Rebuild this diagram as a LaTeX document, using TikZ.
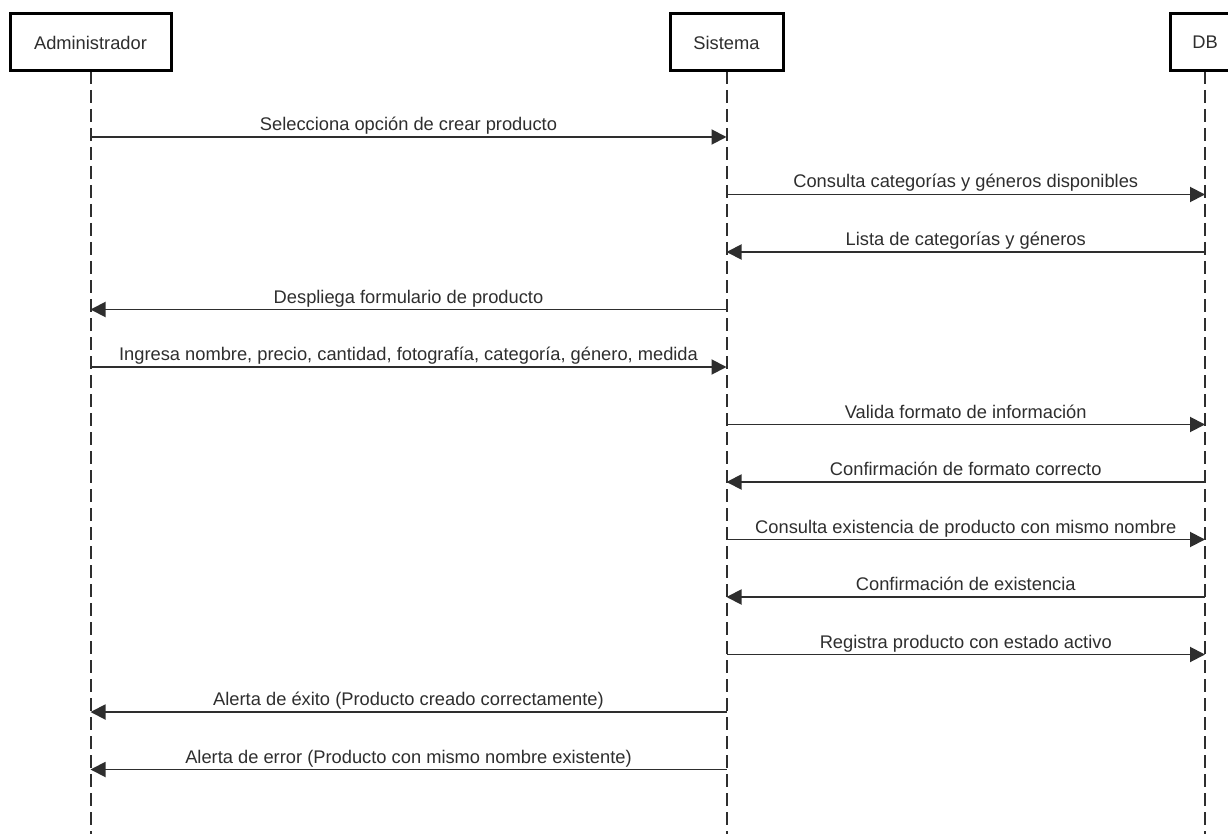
\documentclass[tikz,border=0pt]{standalone}
\usepackage{fontspec}
\setmainfont{Liberation Sans}
\usetikzlibrary{arrows.meta}
\definecolor{ink}{HTML}{2E2E2E}
\tikzset{
  actor/.style={draw=black, line width=3pt, fill=white, minimum height=57pt, inner sep=0pt, text=ink, font=\fontsize{18.3}{20}\selectfont},
  lifeline/.style={draw=ink, line width=2pt, dash pattern=on 13pt off 6pt},
  msg/.style={draw=ink, line width=1.9pt, -{Triangle[length=15pt,width=15pt]}},
  lbl/.style={anchor=base, yshift=6.5pt, text=ink, font=\fontsize{18.3}{20}\selectfont, inner sep=0pt}
}
\begin{document}
\begin{tikzpicture}[x=1pt,y=-1pt]
\useasboundingbox (0,0) rectangle (1228,834);
\clip (0,0) rectangle (1228,834);
% lifeline coordinates
\coordinate (aEnd) at (90.5,834);
\coordinate (sEnd) at (726.5,834);
\coordinate (dEnd) at (1205,834);
\draw[lifeline] (90.5,71) -- (aEnd);
\draw[lifeline] (726.5,71) -- (sEnd);
\draw[lifeline] (1205,71) -- (dEnd);
\node[actor, minimum width=161pt] (admin) at (90.5,42.5) {Administrador};
\node[actor, minimum width=113pt] (sys) at (726.5,42.5) {Sistema};
\node[actor, minimum width=70pt] (db) at (1205,42.5) {DB};
% message end points
\foreach \i/\y in {1/137,2/194.5,3/252,4/309.5,5/367,6/424.5,7/482,8/539.5,9/597,10/654.5,11/712,12/769.5}{
  \coordinate (a\i) at (90.5,\y);
  \coordinate (s\i) at (726.5,\y);
  \coordinate (d\i) at (1205,\y);
}
\draw[msg] (a1) -- node[lbl] {Selecciona opción de crear producto} (s1);
\draw[msg] (s2) -- node[lbl] {Consulta categorías y géneros disponibles} (d2);
\draw[msg] (d3) -- node[lbl] {Lista de categorías y géneros} (s3);
\draw[msg] (s4) -- node[lbl] {Despliega formulario de producto} (a4);
\draw[msg] (a5) -- node[lbl] {Ingresa nombre, precio, cantidad, fotografía, categoría, género, medida} (s5);
\draw[msg] (s6) -- node[lbl] {Valida formato de información} (d6);
\draw[msg] (d7) -- node[lbl] {Confirmación de formato correcto} (s7);
\draw[msg] (s8) -- node[lbl] {Consulta existencia de producto con mismo nombre} (d8);
\draw[msg] (d9) -- node[lbl] {Confirmación de existencia} (s9);
\draw[msg] (s10) -- node[lbl] {Registra producto con estado activo} (d10);
\draw[msg] (s11) -- node[lbl] {Alerta de éxito (Producto creado correctamente)} (a11);
\draw[msg] (s12) -- node[lbl] {Alerta de error (Producto con mismo nombre existente)} (a12);
\end{tikzpicture}
\end{document}
